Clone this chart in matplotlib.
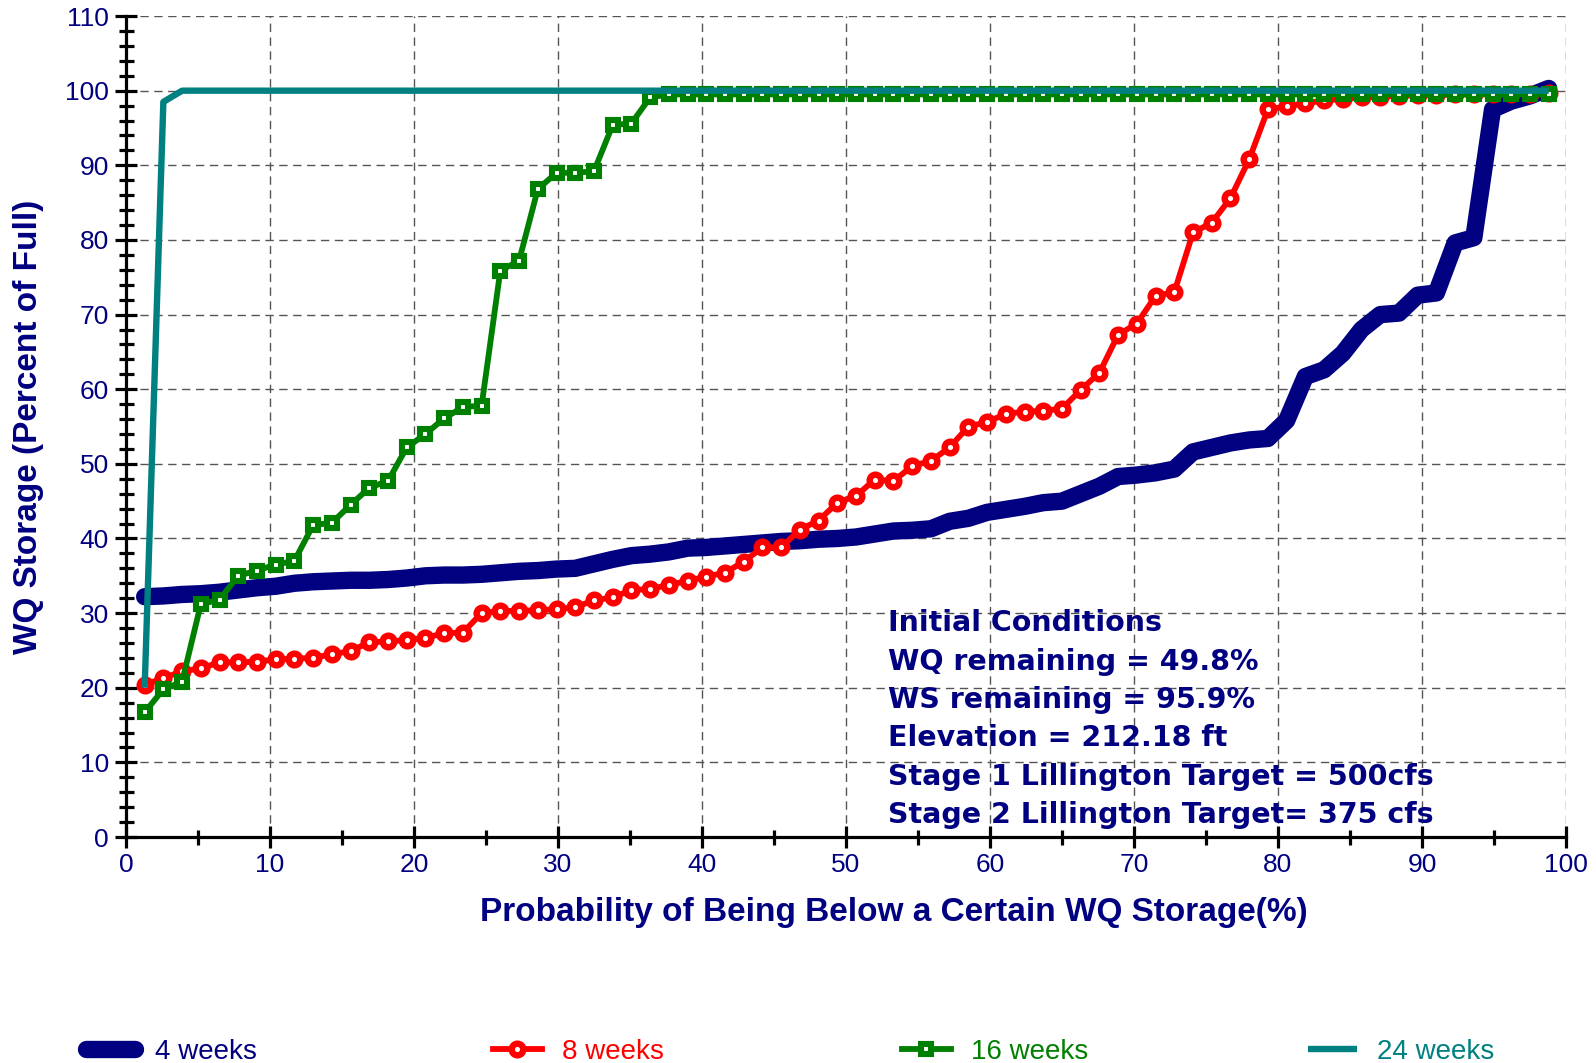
import matplotlib
matplotlib.use("Agg")
import matplotlib.pyplot as plt
from matplotlib.ticker import MultipleLocator

# ---- data ----
prob = [1.3, 2.6, 3.9, 5.2, 6.5, 7.8, 9.1, 10.4, 11.7, 13.0, 14.3, 15.6, 16.9, 18.2,
        19.5, 20.8, 22.1, 23.4, 24.7, 26.0, 27.3, 28.6, 29.9, 31.2, 32.5, 33.8, 35.1,
        36.4, 37.7, 39.0, 40.3, 41.6, 42.9, 44.2, 45.5, 46.8, 48.1, 49.4, 50.7, 52.0,
        53.3, 54.6, 55.9, 57.2, 58.5, 59.8, 61.1, 62.4, 63.7, 65.0, 66.3, 67.6, 68.9,
        70.2, 71.5, 72.8, 74.1, 75.4, 76.7, 78.0, 79.3, 80.6, 81.9, 83.2, 84.5, 85.8,
        87.1, 88.4, 89.7, 91.0, 92.3, 93.6, 94.9, 96.2, 97.5, 98.8]

weeks4 = [32.2, 32.3, 32.5, 32.6, 32.8, 33.1, 33.4, 33.6, 34.0, 34.2, 34.3, 34.4, 34.4,
          34.5, 34.7, 35.0, 35.1, 35.1, 35.2, 35.4, 35.6, 35.7, 35.9, 36.0, 36.6, 37.2,
          37.7, 37.9, 38.2, 38.7, 38.8, 39.0, 39.2, 39.4, 39.6, 39.7, 39.9, 40.0, 40.2,
          40.6, 41.0, 41.1, 41.3, 42.3, 42.7, 43.5, 43.9, 44.3, 44.8, 45.0, 46.0, 47.0,
          48.3, 48.5, 48.8, 49.3, 51.6, 52.2, 52.8, 53.2, 53.4, 55.8, 61.7, 62.6, 64.8,
          68.0, 70.0, 70.2, 72.6, 72.9, 79.6, 80.3, 97.5, 98.6, 99.3, 100.3]

weeks8 = [20.4, 21.3, 22.2, 22.6, 23.4, 23.4, 23.5, 23.8, 23.9, 24.0, 24.5, 24.9, 26.1,
          26.2, 26.4, 26.7, 27.3, 27.4, 30.0, 30.3, 30.3, 30.4, 30.5, 30.8, 31.7, 32.1,
          33.1, 33.2, 33.8, 34.3, 34.9, 35.4, 36.9, 38.8, 38.8, 41.2, 42.4, 44.8, 45.7,
          47.9, 47.7, 49.7, 50.4, 52.2, 55.0, 55.6, 56.7, 57.0, 57.1, 57.4, 59.9, 62.2,
          67.3, 68.8, 72.5, 73.0, 81.0, 82.3, 85.6, 90.8, 97.5, 97.9, 98.3, 98.7, 98.9,
          99.1, 99.2, 99.3, 99.4, 99.4, 99.5, 99.5, 99.6, 99.6, 99.6, 99.7]

weeks16 = [16.7, 19.8, 20.8, 31.2, 31.8, 35.0, 35.7, 36.5, 37.0, 41.8, 42.1, 44.5, 46.8,
           47.7, 52.2, 54.0, 56.1, 57.6, 57.8, 75.9, 77.2, 86.8, 89.0, 89.0, 89.2, 95.4,
           95.6, 99.1, 99.5, 99.5, 99.5, 99.5, 99.5, 99.5, 99.5, 99.5, 99.5, 99.5, 99.5,
           99.5, 99.5, 99.5, 99.5, 99.5, 99.5, 99.5, 99.5, 99.5, 99.5, 99.5, 99.5, 99.5,
           99.5, 99.5, 99.5, 99.5, 99.5, 99.5, 99.5, 99.5, 99.5, 99.5, 99.5, 99.5, 99.5,
           99.5, 99.5, 99.5, 99.5, 99.5, 99.5, 99.5, 99.5, 99.5, 99.5, 99.5]

weeks24 = [20.0, 98.5, 100.0, 100.0, 100.0, 100.0, 100.0, 100.0, 100.0, 100.0, 100.0,
           100.0, 100.0, 100.0, 100.0, 100.0, 100.0, 100.0, 100.0, 100.0, 100.0, 100.0,
           100.0, 100.0, 100.0, 100.0, 100.0, 100.0, 100.0, 100.0, 100.0, 100.0, 100.0,
           100.0, 100.0, 100.0, 100.0, 100.0, 100.0, 100.0, 100.0, 100.0, 100.0, 100.0,
           100.0, 100.0, 100.0, 100.0, 100.0, 100.0, 100.0, 100.0, 100.0, 100.0, 100.0,
           100.0, 100.0, 100.0, 100.0, 100.0, 100.0, 100.0, 100.0, 100.0, 100.0, 100.0,
           100.0, 100.0, 100.0, 100.0, 100.0, 100.0, 100.0, 100.0, 100.0, 100.0]

series_labels = ["4 weeks", "8 weeks", "16 weeks", "24 weeks"]
x_ticks = [0, 10, 20, 30, 40, 50, 60, 70, 80, 90, 100]
y_ticks = [0, 10, 20, 30, 40, 50, 60, 70, 80, 90, 100, 110]
notes = ["Initial Conditions",
         "WQ remaining = 49.8%",
         "WS remaining = 95.9%",
         "Elevation = 212.18 ft",
         "Stage 1 Lillington Target = 500cfs",
         "Stage 2 Lillington Target= 375 cfs"]
note_y = [28.7, 23.5, 18.4, 13.3, 8.1, 3.0]

NAVY = "#000080"
RED = "#FF0000"
GREEN = "#008000"
TEAL = "#008080"

plt.rcParams["font.family"] = ["Liberation Sans", "DejaVu Sans"]

fig = plt.figure(figsize=(15.96, 10.63), dpi=100)
ax = fig.add_axes([0.0789, 0.2126, 0.9023, 0.7723])

l4, = ax.plot(prob, weeks4, color=NAVY, lw=12.5, solid_capstyle="round",
              solid_joinstyle="round", zorder=3)
l8, = ax.plot(prob, weeks8, color=RED, lw=4.2, marker="o", ms=8.4, mew=4.6,
              mfc="white", mec=RED, zorder=4)
l16, = ax.plot(prob, weeks16, color=GREEN, lw=4.2, marker="s", ms=7.4, mew=4.4,
               mfc="white", mec=GREEN, zorder=5)
l24, = ax.plot(prob, weeks24, color=TEAL, lw=4.6, solid_capstyle="butt", zorder=6)

ax.set_xlim(0, 100)
ax.set_ylim(0, 110)
ax.set_xticks(x_ticks)
ax.set_yticks(y_ticks)
ax.xaxis.set_minor_locator(MultipleLocator(5))
ax.yaxis.set_minor_locator(MultipleLocator(2))

ax.grid(True, which="major", color="#555555", lw=1.0, ls=(0, (6, 4)), zorder=1)
for s in ["top", "right"]:
    ax.spines[s].set_visible(False)
for s in ["left", "bottom"]:
    ax.spines[s].set_linewidth(2.3)
    ax.spines[s].set_color("black")
    ax.spines[s].set_zorder(2)

ax.tick_params(axis="both", which="major", direction="inout", length=16.5, width=2.3,
               color="black", labelcolor=NAVY, labelsize=19)
ax.tick_params(axis="y", which="major", pad=4.0)
ax.tick_params(axis="x", which="major", pad=3.0)
ax.tick_params(axis="both", which="minor", direction="inout", length=10.8, width=2.3,
               color="black")

ax.set_ylabel("WQ Storage (Percent of Full)", color=NAVY, fontsize=24,
              fontweight="bold", va="center")
ax.yaxis.set_label_coords(-0.0677, 0.5)
ax.set_xlabel("Probability of Being Below a Certain WQ Storage(%)", color=NAVY,
              fontsize=24, fontweight="bold", va="center")
ax.xaxis.set_label_coords(0.533, -0.0914)

for txt, yy in zip(notes, note_y):
    ax.text(52.9, yy, txt, color=NAVY, fontsize=20.5, fontweight="bold",
            family=["DejaVu Sans"], ha="left", va="center", zorder=7)

# legend, one entry each, spread across the bottom
handles = [l4, l8, l16, l24]
colors = [NAVY, RED, GREEN, TEAL]
x_left = [86, 493, 902, 1308]
for h, lab, c, xl in zip(handles, series_labels, colors, x_left):
    leg = fig.legend([h], [lab], loc="center left",
                     bbox_to_anchor=(xl / 1596, 1 - 1052 / 1063),
                     frameon=False, fontsize=20, handlelength=1.75,
                     handletextpad=0.75, borderpad=0, borderaxespad=0, numpoints=1)
    for t in leg.get_texts():
        t.set_color(c)

fig.savefig("out.png", dpi=100)
